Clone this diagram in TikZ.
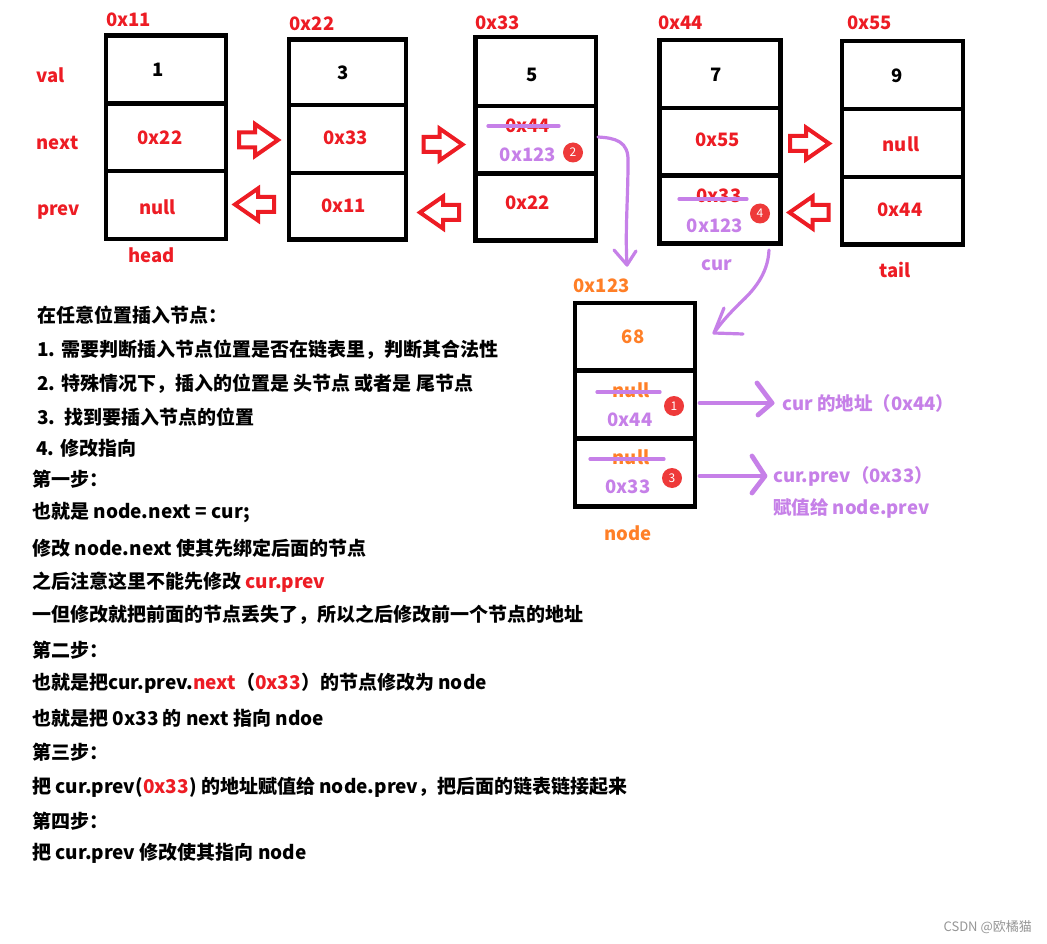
\documentclass[tikz,border=0pt]{standalone}
\usepackage{fontspec}
\newfontfamily\cjk{Noto Sans CJK SC}
\usetikzlibrary{calc}
\definecolor{myred}{RGB}{237,28,36}
\definecolor{mypur}{RGB}{198,128,232}
\definecolor{myorg}{RGB}{255,127,39}
\definecolor{badgecol}{RGB}{238,58,58}
\definecolor{wmcol}{RGB}{150,150,150}
\tikzset{
  txt/.style={inner sep=0pt, font=\cjk\bfseries\fontsize{18.5}{21}\selectfont},
  tred/.style={txt, text=myred},
  tpur/.style={txt, text=mypur},
  torg/.style={txt, text=myorg},
  tblk/.style={txt, text=black},
  body/.style={inner sep=0pt, font=\cjk\bfseries\fontsize{19}{22}\selectfont, anchor=west, text=black},
  cell/.style={draw=black, line width=4.5pt, inner sep=0pt, rectangle},
  pline/.style={draw=mypur, line width=3.2pt, line cap=round, line join=round},
  pthick/.style={draw=mypur, line width=4.8pt, line cap=round, line join=round},
  badge/.style={circle, fill=badgecol, minimum size=20pt, inner sep=0pt, text=white, font=\cjk\fontsize{12}{13}\selectfont},
  barrow/.style={draw=myred, line width=4pt, fill=white, line join=miter},
  rarr/.pic={\draw[barrow] (-19.5,-7.5) -- (-3.5,-7.5) -- (-3.5,-16) -- (19.5,0) -- (-3.5,16) -- (-3.5,7.5) -- (-19.5,7.5) -- cycle;},
  larr/.pic={\draw[barrow] (19.5,-7.5) -- (3.5,-7.5) -- (3.5,-16) -- (-19.5,0) -- (3.5,16) -- (3.5,7.5) -- (19.5,7.5) -- cycle;},
}
\newcommand\cellnode[5]{\node[cell, minimum width={#4-#2}, minimum height={#5-#3}] (#1) at ({(#2+#4)/2},{(#3+#5)/2}) {};}
\begin{document}
\begin{tikzpicture}[x=1pt,y=-1pt]
\useasboundingbox (0,0) rectangle (1047,944);
\fill[white] (0,0) rectangle (1047,944);

% ---- boxes ----
\cellnode{c1v}{106}{35.5}{226}{103.5}
\cellnode{c1n}{106}{103.5}{226}{171}
\cellnode{c1p}{106}{171}{226}{239}
\cellnode{c2v}{289}{39.5}{406}{105}
\cellnode{c2n}{289}{105}{406}{173}
\cellnode{c2p}{289}{173}{406}{239.5}
\cellnode{c3v}{475.5}{37}{596}{106}
\cellnode{c3n}{475.5}{106}{596}{173.5}
\cellnode{c3p}{475.5}{173.5}{596}{240.5}
\cellnode{c4v}{659.5}{40}{780.5}{108}
\cellnode{c4n}{659.5}{108}{780.5}{175.5}
\cellnode{c4p}{659.5}{175.5}{780.5}{243.5}
\cellnode{c5v}{842}{41}{963}{109}
\cellnode{c5n}{842}{109}{963}{177}
\cellnode{c5p}{842}{177}{963}{244.5}
\cellnode{c6v}{575}{303}{695}{370.5}
\cellnode{c6n}{575}{370.5}{695}{438.5}
\cellnode{c6p}{575}{438.5}{695}{506.5}

% ---- row labels ----
\node[tred] (lval) at (50.5,75) {val};
\node[tred] (lnext) at (57.5,143) {next};
\node[tred] (lprev) at (58.5,212) {prev};

% ---- addresses ----
\node[tred] (a1) at (128.5,20) {0x11};
\node[tred] (a2) at (312,23.5) {0x22};
\node[tred] (a3) at (497.5,23) {0x33};
\node[tred] (a4) at (680.5,23) {0x44};
\node[tred] (a5) at (869.5,23) {0x55};
\node[torg] (a6) at (601.5,286) {0x123};

% ---- values ----
\node[tblk] (v1) at (158,70) {1};
\node[tblk] (v2) at (343,72.5) {3};
\node[tblk] (v3) at (532,75) {5};
\node[tblk] (v4) at (716,74.5) {7};
\node[tblk] (v5) at (897,76) {9};
\node[torg] (v6) at (633,337) {68};

% ---- next row ----
\node[tred] (n1) at (160,138) {0x22};
\node[tred] (n2) at (345.5,137.5) {0x33};
\node[tred] (n3) at (527.5,126) {0x44};
\draw[pline] (488,126) -- (559,126);
\node[tpur] (n3b) at (528,155) {0x123};
\node[badge] (b2) at (573,152.5) {2};
\node[tred] (n4) at (717.5,140) {0x55};
\node[tred] (n5) at (901,144) {null};
\node[torg] (n6) at (631,390) {null};
\draw[pline] (597,392) -- (660,392);
\node[tpur] (n6b) at (630,419.5) {0x44};
\node[badge] (b1) at (674,406) {1};

% ---- prev row ----
\node[tred] (p1) at (157.5,207) {null};
\node[tred] (p2) at (343.5,205.5) {0x11};
\node[tred] (p3) at (527.5,202.5) {0x22};
\node[tred] (p4) at (719,195.5) {0x33};
\draw[pline] (679,199) -- (747,199);
\node[tpur] (p4b) at (715,226) {0x123};
\node[badge] (b4) at (760,213.5) {4};
\node[tred] (p5) at (900,209.5) {0x44};
\node[torg] (p6) at (631,457.5) {null};
\draw[pline] (590,459) -- (664,459);
\node[tpur] (p6b) at (628,487) {0x33};
\node[badge] (b3) at (672,478) {3};

% ---- under labels ----
\node[tred] (head) at (151.5,255) {head};
\node[tpur] (cur) at (717,265) {cur};
\node[tred] (tail) at (895,270) {tail};
\node[torg] (nodelbl) at (628,533) {node};

% ---- block arrows ----
\pic at (258.5,140) {rarr};
\pic at (254.5,204.5) {larr};
\pic at (443,144.5) {rarr};
\pic at (439.5,212.5) {larr};
\pic at (809.5,143.5) {rarr};
\pic at (809,212.5) {larr};

% ---- purple hand arrows ----
\coordinate (k1) at (627,265);
\draw[pline] (598,137) .. controls (615,138) and (629,141) .. (628,162) .. controls (628,200) and (625,230) .. (k1);
\draw[pline] (614,250) -- (k1) -- (636,251);
\coordinate (k2) at (714,333);
\draw[pline] (769,250) .. controls (768,275) and (752,292) .. (740,303) .. controls (728,315) and (720,324) .. (k2);
\draw[pline] (724,308) -- (k2) -- (743,334);
\node[tpur, anchor=west] (r1) at (782,403) {cur 的地址（0x44）};
\node[tpur, anchor=west] (r2) at (773,476) {cur.prev（0x33）};
\node[tpur, anchor=west] (r3) at (773,508) {赋值给 node.prev};
\coordinate (k3) at (772,403);
\coordinate (k4) at (765,476);
\draw[pthick] (700,403) -- (k3);
\draw[pthick] (757,383) -- (k3) -- (758,415);
\draw[pthick] (700,476) -- (k4);
\draw[pthick] (752,456) -- (k4) -- (752,493);

% ---- body text ----
\node[body] (t1) at (37,315) {在任意位置插入节点：};
\node[body] (t2) at (37,350) {1. 需要判断插入节点位置是否在链表里，判断其合法性};
\node[body] (t3) at (37,384) {2. 特殊情况下，插入的位置是 头节点 或者是 尾节点};
\node[body] (t4) at (37,417) {3.\ \ 找到要插入节点的位置};
\node[body] (t5) at (36,448) {4. 修改指向};
\node[body] (t6) at (32,479) {第一步：};
\node[body] (t7) at (32,513) {也就是 node.next = cur;};
\node[body] (t8) at (32,548) {修改 node.next 使其先绑定后面的节点};
\node[body] (t9) at (32,582) {之后注意这里不能先修改 {\color{myred}cur.prev}};
\node[body] (t10) at (32,615) {一但修改就把前面的节点丢失了，所以之后修改前一个节点的地址};
\node[body] (t11) at (32,650) {第二步：};
\node[body] (t12) at (32,683) {也就是把cur.prev.{\color{myred}next}（{\color{myred}0x33}）的节点修改为 node};
\node[body] (t13) at (32,718) {也就是把 0x33 的 next 指向 ndoe};
\node[body] (t14) at (32,752) {第三步：};
\node[body] (t15) at (32,787) {把 cur.prev({\color{myred}0x33}) 的地址赋值给 node.prev，把后面的链表链接起来};
\node[body] (t16) at (32,821) {第四步：};
\node[body] (t17) at (32,853) {把 cur.prev 修改使其指向 node};

% ---- watermark ----
\node[inner sep=0pt, anchor=east, text=wmcol, font=\cjk\fontsize{13}{15}\selectfont] (wm) at (1032,927) {CSDN @欧橘猫};
\end{tikzpicture}
\end{document}
